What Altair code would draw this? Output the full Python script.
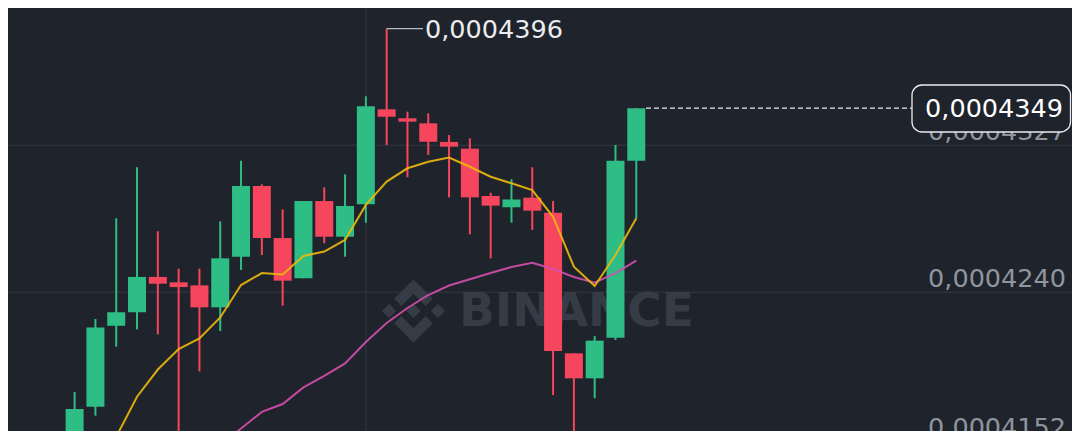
import altair as alt
import pandas as pd

# ---------------- data (prices) ----------------
opens = [0.00041350, 0.00041723, 0.00042202, 0.00042282, 0.00042491, 0.00042459, 0.00042441,
         0.00042311, 0.00042611, 0.00043029, 0.00042721, 0.00042483, 0.00042940, 0.00042729,
         0.00042921, 0.00043483, 0.00043430, 0.00043400, 0.00043290, 0.00043250, 0.00042970,
         0.00042903, 0.00042960, 0.00042871, 0.00042039, 0.00041891, 0.00042131, 0.00043179]
highs = [0.00041810, 0.00042242, 0.00042838, 0.00043140, 0.00042761, 0.00042540, 0.00042540,
         0.00042820, 0.00043179, 0.00043039, 0.00042891, 0.00042940, 0.00043021, 0.00043098,
         0.00043560, 0.00043960, 0.00043469, 0.00043459, 0.00043331, 0.00043311, 0.00042989,
         0.00043069, 0.00043140, 0.00042940, 0.00042039, 0.00042141, 0.00043272, 0.00043490]
lows = [0.00041280, 0.00041670, 0.00042078, 0.00042181, 0.00042151, 0.00041400, 0.00041932,
        0.00042171, 0.00042532, 0.00042621, 0.00042321, 0.00042483, 0.00042690, 0.00042611,
        0.00042812, 0.00043272, 0.00043081, 0.00043213, 0.00042962, 0.00042743, 0.00042601,
        0.00042812, 0.00042769, 0.00041792, 0.00041450, 0.00041773, 0.00042118, 0.00042838]
closes = [0.00041709, 0.00042191, 0.00042282, 0.00042491, 0.00042451, 0.00042431, 0.00042311,
          0.00042601, 0.00043029, 0.00042721, 0.00042469, 0.00042940, 0.00042729, 0.00042911,
          0.00043501, 0.00043439, 0.00043410, 0.00043291, 0.00043262, 0.00042962, 0.00042913,
          0.00042950, 0.00042883, 0.00042053, 0.00041891, 0.00042114, 0.00043179, 0.00043490]
ma7 = [0.00041112, 0.00041313, 0.00041545, 0.00041782, 0.00041943, 0.00042064, 0.00042127,
       0.00042251, 0.00042443, 0.00042514, 0.00042505, 0.00042615, 0.00042641, 0.00042710,
       0.00042917, 0.00043055, 0.00043134, 0.00043173, 0.00043197, 0.00043143, 0.00043084,
       0.00043045, 0.00043005, 0.00042847, 0.00042552, 0.00042437, 0.00042621, 0.00042838]
ma25_start = 6
ma25 = [0.00041396, 0.00041496, 0.00041594, 0.00041692, 0.00041739, 0.00041837, 0.00041905,
        0.00041979, 0.00042106, 0.00042218, 0.00042307, 0.00042384, 0.00042440, 0.00042477,
        0.00042514, 0.00042550, 0.00042575, 0.00042538, 0.00042491, 0.00042457, 0.00042514,
        0.00042587]

grid_values = [0.0004327, 0.0004240, 0.0004152]
grid_labels = ["0,0004327", "0,0004240", "0,0004152"]
vgrid_index = [14]

last_price = 0.0004349
last_label = "0,0004349"
high_index = 15
high_price = 0.0004396
high_label = "0,0004396"

# ---------------- styling ----------------
BG = "#1f232b"
GRID = "#2c313a"
UP = "#2ebd85"
DOWN = "#f6465d"
MA7_COLOR = "#f0b90b"
MA25_COLOR = "#d64fae"
AXIS_TXT = "#8f959e"
WHITE = "#eaecef"
WM = "#363c46"
FONT = "DejaVu Sans"

W, H = 1064, 423
xs = alt.Scale(domain=[-2.962, 47.705], nice=False, zero=False)
ys = alt.Scale(domain=[0.000415792, 0.000440826], nice=False, zero=False)

idx = list(range(len(opens)))
candles = pd.DataFrame({
    "i": idx, "open": opens, "high": highs, "low": lows, "close": closes,
    "dir": ["up" if c >= o else "down" for o, c in zip(opens, closes)],
})
ma7_df = pd.DataFrame({"i": idx, "v": ma7})
ma25_df = pd.DataFrame({"i": list(range(ma25_start, ma25_start + len(ma25))), "v": ma25})
grid_df = pd.DataFrame({"v": grid_values, "label": grid_labels})
vgrid_df = pd.DataFrame({"i": vgrid_index})
last_df = pd.DataFrame({"p": [last_price], "label": [last_label]})
high_df = pd.DataFrame({"i": [high_index], "p": [high_price], "label": [high_label]})
one = pd.DataFrame({"a": [0]})

X = lambda f="i": alt.X(f"{f}:Q", scale=xs, axis=None)
Y = lambda f: alt.Y(f"{f}:Q", scale=ys, axis=None)
color = alt.Color("dir:N", scale=alt.Scale(domain=["up", "down"], range=[UP, DOWN]), legend=None)

hgrid = alt.Chart(grid_df).mark_rule(color=GRID, strokeWidth=1.5).encode(y=Y("v"))
vgrid = alt.Chart(vgrid_df).mark_rule(color=GRID, strokeWidth=1.5).encode(x=X())

logo_path = ("M-0.388,-0.16L0,-0.548L0.389,-0.159L0.615,-0.385L0,-1L-0.614,-0.385Z "
             "M-1,0L-0.774,-0.226L-0.548,0L-0.774,0.226Z "
             "M-0.388,0.16L0,0.548L0.389,0.159L0.615,0.385L0,1L-0.614,0.385Z "
             "M1,0L0.774,-0.226L0.548,0L0.774,0.226Z "
             "M0.229,0L0,-0.229L-0.229,0L0,0.229Z")
logo = alt.Chart(one).mark_point(shape=logo_path, size=3969, filled=True, color=WM,
                                 opacity=1).encode(x=alt.value(405.5), y=alt.value(303))
wm_text = alt.Chart(one).mark_text(text="BINANCE", font=FONT, fontWeight="bold", fontSize=47,
                                   align="left", baseline="middle", color=WM).encode(
    x=alt.value(451), y=alt.value(304))

wicks = alt.Chart(candles).mark_rule(strokeWidth=2, clip=True).encode(
    x=X(), y=Y("low"), y2="high", color=color)
bodies = alt.Chart(candles).mark_bar(size=18, clip=True).encode(
    x=X(), y=Y("open"), y2="close", color=color)

ma7_line = alt.Chart(ma7_df).mark_line(color=MA7_COLOR, strokeWidth=2, clip=True, opacity=0.9).encode(
    x=X(), y=Y("v"))
ma25_line = alt.Chart(ma25_df).mark_line(color=MA25_COLOR, strokeWidth=2, clip=True, opacity=0.9).encode(
    x=X(), y=Y("v"))

axis_labels = alt.Chart(grid_df).mark_text(align="right", baseline="middle", dy=-13, font=FONT,
                                           fontSize=25.5, color=AXIS_TXT).encode(
    x=alt.value(1058), y=Y("v"), text="label:N")

price_line = alt.Chart(last_df).mark_rule(color=WHITE, strokeWidth=1.2, strokeDash=[5, 3]).encode(
    x=alt.value(638), x2=alt.value(904), y=Y("p"))
price_box = alt.Chart(one).mark_rect(fill=BG, stroke=WHITE, strokeWidth=1.3, cornerRadius=10).encode(
    x=alt.value(904), x2=alt.value(1062.5), y=alt.value(77), y2=alt.value(124))
price_text = alt.Chart(last_df).mark_text(align="right", baseline="middle", font=FONT, fontSize=25.5,
                                          color="#ffffff", dy=1).encode(
    x=alt.value(1055), y=Y("p"), text="label:N")

high_line = alt.Chart(high_df).mark_rule(color="#b7bdc6", strokeWidth=1.3).encode(
    x=X(), x2=alt.value(415), y=Y("p"))
high_text = alt.Chart(high_df).mark_text(align="left", baseline="middle", font=FONT, fontSize=25.5,
                                         color=WHITE, dy=1).encode(
    x=alt.value(417), y=Y("p"), text="label:N")

chart = alt.layer(
    hgrid, vgrid, logo, wm_text, wicks, bodies, ma25_line, ma7_line,
    axis_labels, price_line, price_box, price_text, high_line, high_text,
).properties(
    width=W, height=H, background=BG, padding=0,
    autosize=alt.AutoSizeParams(type="none"),
).configure_view(stroke=None)

chart.save("out.html", embed_options={"renderer": "svg", "actions": False})
